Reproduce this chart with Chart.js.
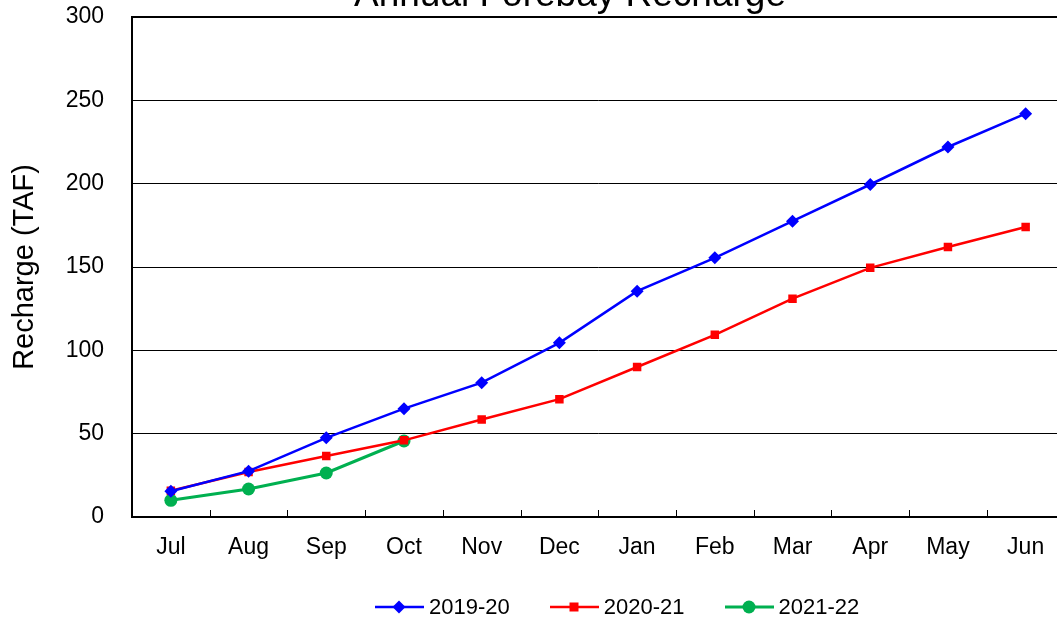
<!DOCTYPE html>
<html lang="en">
<head>
  <meta charset="UTF-8" />
  <title>Annual Forebay Recharge</title>
  <script src="https://cdn.jsdelivr.net/npm/chart.js"></script>
  <style>
    body { margin:0; background:#fff; overflow:hidden; font-family:"Liberation Sans", Arial, sans-serif; }
    #wrap { position:absolute; left:0; top:0; width:1071px; height:623px; }
    #legend { position:absolute; left:375px; top:594px; display:flex; align-items:center; font-size:22px; color:#000; }
    .item { display:flex; align-items:center; margin-right:40px; }
    .item svg { margin-right:5px; }
  </style>
</head>
<body>
  <div id="wrap"><canvas id="c" width="1071" height="623"></canvas></div>
  <div id="legend"></div>

  <script>
    const months = ["Jul","Aug","Sep","Oct","Nov","Dec","Jan","Feb","Mar","Apr","May","Jun"];
    const y2019 = [15.5, 27.5, 47.5, 65, 80.6, 104.5, 135.5, 155.5, 177.5, 199.5, 222, 242];
    const y2020 = [15.8, 27, 36.6, 46, 58.5, 70.7, 90, 109.3, 131, 149.5, 162, 174];
    const y2021 = [10, 16.8, 26.4, 45.6];
    const yTicks = [0, 50, 100, 150, 200, 250, 300];

    const series = [
      { label:"2019-20", data:y2019, color:"#0000ff", style:"rectRot", r:6.5, w:2.5 },
      { label:"2020-21", data:y2020, color:"#ff0000", style:"rect", r:6, w:2.5 },
      { label:"2021-22", data:y2021, color:"#00b050", style:"circle", r:6.5, w:3 }
    ];

    // titre coupé en haut + petites graduations intérieures
    const extras = {
      id:"extras",
      afterDraw(chart){
        const c = chart.ctx, x = chart.scales.x, a = chart.chartArea;
        c.save();
        c.fillStyle = "#000";
        c.font = "37px 'Liberation Sans', Arial";
        c.textAlign = "center";
        c.textBaseline = "alphabetic";
        c.fillText("Annual Forebay Recharge", 570, 6);
        c.strokeStyle = "#000";
        c.lineWidth = 1;
        for (let i = 1; i < months.length; i++) {
          const px = Math.round((x.getPixelForValue(i-1) + x.getPixelForValue(i)) / 2) + 0.5;
          c.beginPath();
          c.moveTo(px, a.bottom);
          c.lineTo(px, a.bottom - 7);
          c.stroke();
        }
        c.restore();
      }
    };

    new Chart(document.getElementById("c"), {
      type:"line",
      data:{
        labels:months,
        datasets:series.map(s => ({
          label:s.label, data:s.data, borderColor:s.color, backgroundColor:s.color,
          borderWidth:s.w, pointStyle:s.style, pointRadius:s.r, pointHoverRadius:s.r,
          pointBorderWidth:0, tension:0, fill:false
        }))
      },
      options:{
        responsive:false, animation:false,
        layout:{ padding:{ top:17, left:0, right:0, bottom:0 } },
        plugins:{ legend:{ display:false }, tooltip:{ enabled:false } },
        scales:{
          x:{
            offset:true,
            grid:{ drawOnChartArea:false, drawTicks:true, tickLength:17, tickColor:"rgba(0,0,0,0)", offset:true },
            border:{ color:"#000", width:2 },
            ticks:{ color:"#000", padding:0, font:{ size:23, family:"'Liberation Sans', Arial" } },
            afterFit(s){ s.height = 106; }
          },
          y:{
            min:0, max:300,
            afterBuildTicks(s){ s.ticks = yTicks.map(v => ({ value:v })); },
            grid:{ color:"#000", lineWidth:ctx => ctx.tick && ctx.tick.value === 300 ? 2 : 1,
                   drawTicks:true, tickLength:28, tickColor:"rgba(0,0,0,0)" },
            border:{ color:"#000", width:2 },
            ticks:{ color:"#000", padding:0, font:{ size:23, family:"'Liberation Sans', Arial" } },
            title:{ display:true, text:"Recharge (TAF)", color:"#000", padding:{ top:8, bottom:0 },
                    font:{ size:29, family:"'Liberation Sans', Arial" } },
            afterFit(s){ s.width = 132; }
          }
        }
      },
      plugins:[extras]
    });

    // légende : trait + marqueur
    const shape = s => {
      if (s.style === "rectRot") return `<polygon points="24,3.5 30.5,10 24,16.5 17.5,10" fill="${s.color}"/>`;
      if (s.style === "rect") return `<rect x="19.5" y="5.5" width="9" height="9" fill="${s.color}"/>`;
      return `<circle cx="24" cy="10" r="6.5" fill="${s.color}"/>`;
    };
    document.getElementById("legend").innerHTML = series.map(s => `
      <div class="item">
        <svg width="49" height="20"><line x1="0" y1="10" x2="49" y2="10" stroke="${s.color}" stroke-width="${s.w}"/>${shape(s)}</svg>
        <span>${s.label}</span>
      </div>`).join("");
  </script>
</body>
</html>
